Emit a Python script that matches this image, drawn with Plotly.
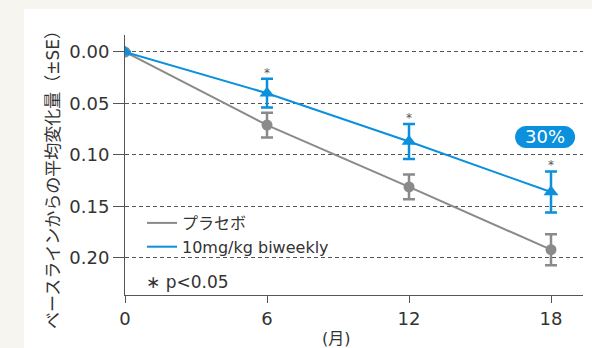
import plotly.graph_objects as go

# Mean change from baseline (±SE) by month
months = [0, 6, 12, 18]
placebo = [0.0, 0.071, 0.131, 0.192]
placebo_se = [0.0, 0.012, 0.012, 0.015]
drug = [0.0, 0.040, 0.087, 0.136]
drug_se = [0.0, 0.014, 0.017, 0.020]
significant = [False, True, True, True]
series_names = ["プラセボ", "10mg/kg biweekly"]
ytick_vals = [0.00, 0.05, 0.10, 0.15, 0.20]
xtick_vals = [0, 6, 12, 18]
reduction_label = "30%"

GRAY = "#8a8a8a"
BLUE = "#0a90dc"
INK = "#333333"
AXIS = "#555555"
FONT = "DejaVu Sans, Noto Sans CJK JP, sans-serif"

W, H = 592, 348
L, R, T, B = 125, 9, 35, 53

fig = go.Figure()

# data traces (legend handled by line-only entries below)
fig.add_trace(go.Scatter(
    x=months, y=placebo, mode="lines+markers", showlegend=False,
    line=dict(color=GRAY, width=2),
    marker=dict(symbol="circle", size=11, color=GRAY),
    error_y=dict(type="data", array=placebo_se, color=GRAY, thickness=2.5, width=6),
))
fig.add_trace(go.Scatter(
    x=months, y=drug, mode="lines+markers", showlegend=False,
    line=dict(color=BLUE, width=2),
    marker=dict(symbol="triangle-up", size=13, color=BLUE),
    error_y=dict(type="data", array=drug_se, color=BLUE, thickness=2.5, width=6),
))

for name, col in zip(series_names, [GRAY, BLUE]):
    fig.add_trace(go.Scatter(
        x=[None], y=[None], mode="lines", name=name,
        line=dict(color=col, width=2),
    ))

# significance marks above the treated-arm error bars (y axis is reversed)
for m, v, se, s in zip(months, drug, drug_se, significant):
    if s:
        fig.add_annotation(
            x=m, y=v - se, text="*", showarrow=False,
            yanchor="bottom", yshift=-3,
            font=dict(family=FONT, size=12, color="#555555"),
        )

# white panel behind the chart
fig.add_shape(
    type="rect", xref="paper", yref="paper",
    x0=(24 - L) / (W - L - R), x1=(W - L) / (W - L - R),
    y0=-B / (H - T - B), y1=(H - 9 - B) / (H - T - B),
    fillcolor="white", line=dict(width=0), layer="below",
)

# rounded badge with the relative reduction
bx, by = 17.75, 0.0825
hw, hh = 19, 11
k = 0.5523 * hh
pill = (
    f"M {-hw},{-hh} L {hw},{-hh} "
    f"C {hw + k},{-hh} {hw + hh},{-k} {hw + hh},0 "
    f"C {hw + hh},{k} {hw + k},{hh} {hw},{hh} "
    f"L {-hw},{hh} "
    f"C {-hw - k},{hh} {-hw - hh},{k} {-hw - hh},0 "
    f"C {-hw - hh},{-k} {-hw - k},{-hh} {-hw},{-hh} Z"
)
fig.add_shape(
    type="path", xref="x", yref="y", xsizemode="pixel", ysizemode="pixel",
    xanchor=bx, yanchor=by, path=pill,
    fillcolor=BLUE, line=dict(width=0),
)
fig.add_annotation(
    x=bx, y=by, text=reduction_label, showarrow=False,
    font=dict(family=FONT, size=18, color="white"),
)

fig.add_annotation(
    xref="paper", yref="paper", x=(144 - L) / (W - L - R), y=(H - B - 282) / (H - T - B),
    xanchor="left", yanchor="middle", text="∗ p<0.05", showarrow=False,
    font=dict(family=FONT, size=17, color=INK),
)
fig.add_annotation(
    xref="paper", yref="paper", x=(336 - L) / (W - L - R), y=(H - B - 338) / (H - T - B),
    xanchor="center", yanchor="middle", text="(月)", showarrow=False,
    font=dict(family=FONT, size=16, color=INK),
)
fig.add_annotation(
    xref="paper", yref="paper", x=(53 - L) / (W - L - R), y=(H - B - 176) / (H - T - B),
    xanchor="center", yanchor="middle", textangle=-90,
    text="ベースラインからの平均変化量（±SE）", showarrow=False,
    font=dict(family=FONT, size=17, color=INK),
)

fig.update_layout(
    width=W, height=H,
    margin=dict(l=L, r=R, t=T, b=B),
    paper_bgcolor="#f6f5f0", plot_bgcolor="rgba(0,0,0,0)",
    font=dict(family=FONT, size=17, color=INK),
    legend=dict(
        x=(142 - L) / (W - L - R), y=(H - B - 206) / (H - T - B),
        xanchor="left", yanchor="top", bgcolor="rgba(0,0,0,0)",
        font=dict(family=FONT, size=16, color=INK),
        tracegroupgap=0, itemwidth=30,
    ),
    xaxis=dict(
        range=[0, 18 * (W - L - R) / 426], tickvals=xtick_vals,
        showgrid=False, zeroline=False, showline=True, linecolor=AXIS, linewidth=1,
        ticks="outside", ticklen=7, tickcolor=AXIS, tickwidth=1,
        tickfont=dict(family=FONT, size=18, color=INK),
    ),
    yaxis=dict(
        range=[0.236, -0.0165], tickvals=ytick_vals, tickformat=".2f",
        showgrid=True, gridcolor="#555555", griddash="4px,3px", gridwidth=1,
        zeroline=False, showline=True, linecolor=AXIS, linewidth=1,
        ticks="outside", ticklen=11, tickcolor=AXIS, tickwidth=1,
        tickfont=dict(family=FONT, size=18, color=INK),
    ),
)

fig.write_html("out.html")
